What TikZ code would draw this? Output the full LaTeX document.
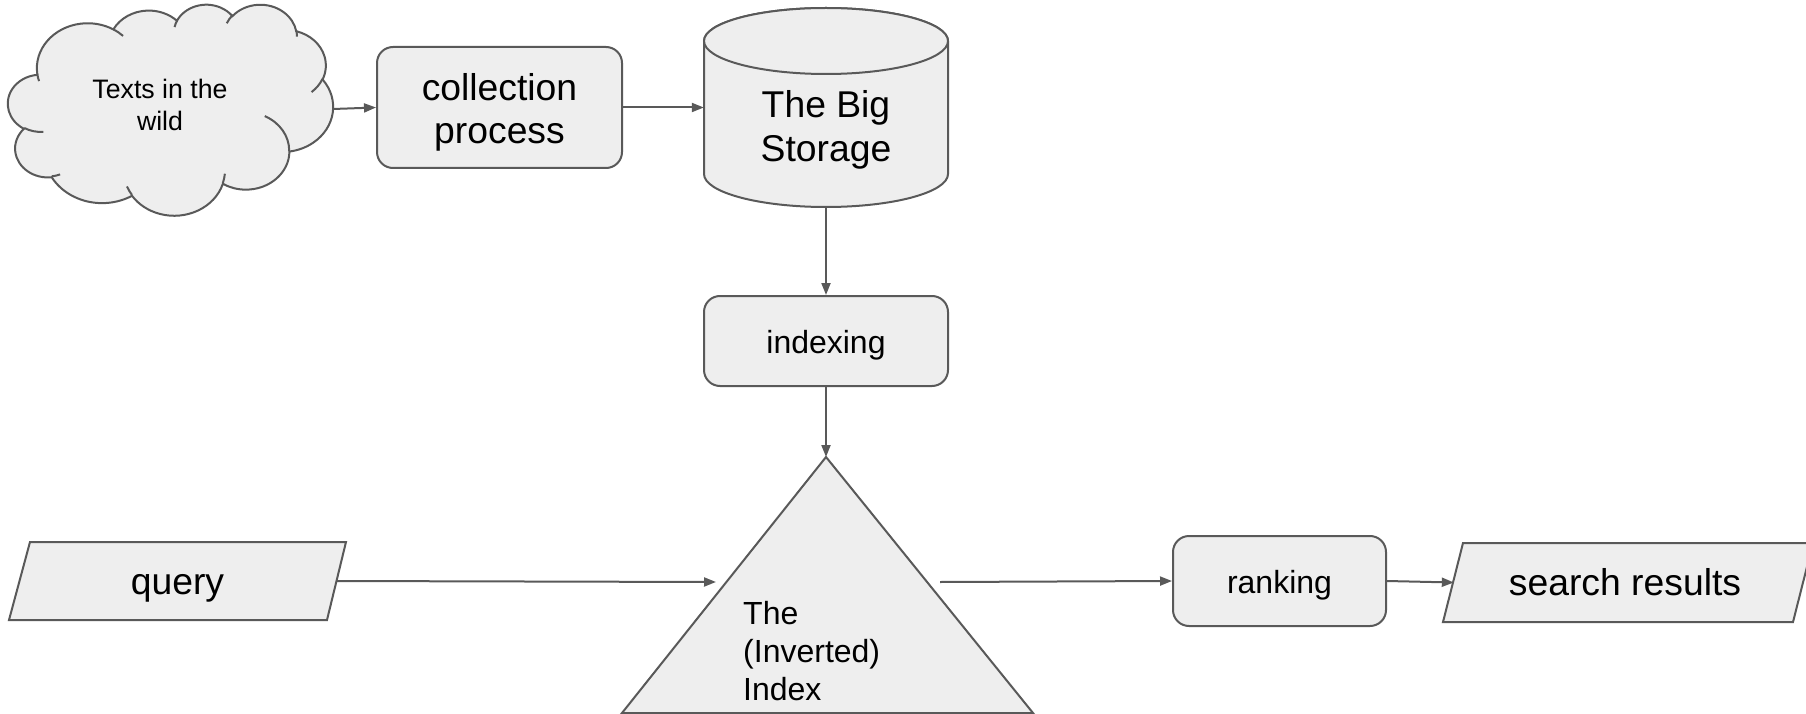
\documentclass[tikz,border=0pt]{standalone}
\usepackage{fontspec}
\setmainfont{Liberation Sans}
\usetikzlibrary{arrows.meta}

\definecolor{shapefill}{HTML}{EEEEEE}
\definecolor{edge}{HTML}{595959}

\newcommand\txtlarge{\fontsize{37.3}{43.6}\selectfont}
\newcommand\txtmedium{\fontsize{32}{38.1}\selectfont}
\newcommand\txtsmall{\fontsize{26.7}{32}\selectfont}

\tikzset{
  outlined/.style={draw=edge, fill=shapefill, line width=2pt},
  procbox/.style={outlined, rounded corners=16pt, inner sep=0pt},
  midline/.style={font=\txtmedium, text height=28pt, text depth=3pt},
  bigline/.style={font=\txtlarge, text height=31.5pt, text depth=5pt},
  conn/.style={draw=edge, line width=2pt, -{Triangle[length=12pt,width=9pt]}},
}

\begin{document}
\begin{tikzpicture}[x=1pt, y=-1pt]
\useasboundingbox (0,0) rectangle (1806,714);

% ---- cloud: outline and the small inner arcs ----
\begin{scope}[shift={(8,4)}, xscale=0.7523, yscale=0.4884]
  \path[outlined] (39.00,143.70)
    arc[start angle=-187.75, end angle=-59.63,  x radius=67.53, y radius=91.90]
    arc[start angle=-152.03, end angle=-45.42,  x radius=53.33, y radius=72.67]
    arc[start angle=-153.49, end angle=-37.33,  x radius=43.65, y radius=59.45]
    arc[start angle=-139.70, end angle=-10.21,  x radius=48.57, y radius=65.95]
    arc[start angle=-74.77,  end angle=23.21,   x radius=53.33, y radius=72.73]
    arc[start angle=-37.54,  end angle=81.85,   x radius=67.75, y radius=92.20]
    arc[start angle=0.46,    end angle=121.98,  x radius=57.85, y radius=78.67]
    arc[start angle=16.85,   end angle=146.24,  x radius=67.52, y radius=92.15]
    arc[start angle=58.99,   end angle=150.20,  x radius=77.20, y radius=105.43]
    arc[start angle=-276.69, end angle=-136.90, x radius=43.60, y radius=59.18]
    arc[start angle=-239.64, end angle=-95.89,  x radius=43.45, y radius=59.45]
    -- cycle;
  \draw[draw=edge, line width=2pt]
    (46.93,261.77)  arc[start angle=85.55,   end angle=120.36,  x radius=43.45, y radius=59.45]
    (69.28,348.99)  arc[start angle=68.23,   end angle=83.31,   x radius=43.60, y radius=59.18]
    (164.78,390.90) arc[start angle=146.24,  end angle=158.47,  x radius=67.52, y radius=92.15]
    (288.27,347.51) arc[start angle=4.74,    end angle=16.85,   x radius=67.52, y radius=92.15]
    (341.29,229.54) arc[start angle=-64.03,  end angle=0.46,    x radius=57.85, y radius=78.67]
    (417.98,153.54) arc[start angle=23.21,   end angle=49.63,   x radius=53.33, y radius=72.73]
    (383.24,54.26)  arc[start angle=-10.21,  end angle=0.82,    x radius=48.57, y radius=65.95]
    (290.78,39.52)  arc[start angle=-156.28, end angle=-139.70, x radius=48.57, y radius=65.95]
    (221.41,47.20)  arc[start angle=-167.73, end angle=-153.49, x radius=43.65, y radius=59.45]
    (140.00,51.92)  arc[start angle=-59.63,  end angle=-45.74,  x radius=67.53, y radius=91.90]
    (41.27,157.89)  arc[start angle=163.19,  end angle=172.25,  x radius=67.53, y radius=91.90];
\end{scope}
\node[font=\txtsmall, align=center] (wild) at (160,104.5) {Texts in the\\wild};
\coordinate (cloudedge) at (333,109);

% ---- storage cylinder ----
\path[outlined] (704,41) -- (704,174)
  arc[start angle=180, end angle=0, x radius=122, y radius=33] -- (948,41)
  arc[start angle=0, end angle=-180, x radius=122, y radius=33] -- cycle;
\path[outlined] (826,41) ellipse[x radius=122, y radius=33];
\node[minimum width=244pt, minimum height=199pt, inner sep=0pt] (storage) at (826,107.5) {};
\node[font=\txtlarge, align=center] (storagetext) at (826,129.9) {The Big\\Storage};

% ---- collection process ----
\node[procbox, minimum width=245pt, minimum height=121pt] (collect) at (499.5,107.5) {};
\node[font=\txtlarge, align=center] (collecttext) at (499.5,112.4) {collection\\process};

% ---- indexing ----
\node[procbox, midline, minimum width=244pt, minimum height=90pt] (indexing) at (826,341) {indexing};

% ---- inverted index triangle ----
\path[outlined] (826,457) -- (1033,713) -- (622,713) -- cycle;
\coordinate (apex) at (826,457);
\coordinate (idxin) at (716,582);
\coordinate (idxout) at (940,582);
\node[font=\txtmedium, align=left, anchor=north west, inner sep=0pt] (inverted) at (743,600.8) {The\\(Inverted)\\Index};

% ---- query and search results ----
\path[outlined] (30,542) -- (346,542) -- (327,620) -- (9,620) -- cycle;
\node[bigline, minimum width=318pt, inner sep=0pt] (query) at (177.5,581) {query};
\path[outlined] (1463,543) -- (1813,543) -- (1793,622) -- (1443,622) -- cycle;
\node[bigline, minimum width=342pt, inner sep=0pt] (results) at (1625,582.5) {search results};

% ---- ranking ----
\node[procbox, midline, minimum width=213pt, minimum height=90pt] (ranking) at (1279.5,581) {ranking};

% ---- connectors ----
\draw[conn] (cloudedge) -- (collect.west);
\draw[conn] (collect.east) -- (storage.west);
\draw[conn] (storage.south) -- (indexing.north);
\draw[conn] (indexing.south) -- (apex);
\draw[conn] (query.east) -- (idxin);
\draw[conn] (idxout) -- (ranking.west);
\draw[conn] (ranking.east) -- (results.west);
\end{tikzpicture}
\end{document}
